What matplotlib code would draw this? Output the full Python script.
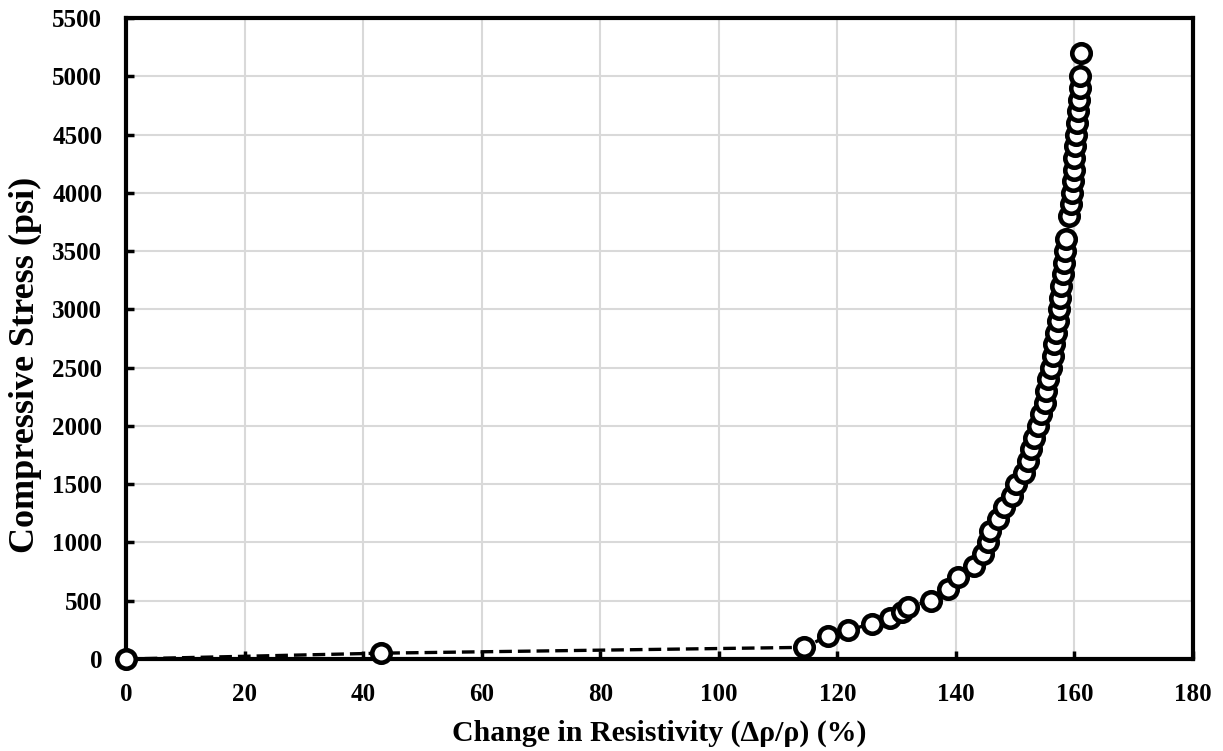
import numpy as np
import matplotlib
matplotlib.use("Agg")
import matplotlib.pyplot as plt

# change in resistivity (%) vs compressive stress (psi)
resistivity = [0, 43, 114.4, 118.5, 121.8, 125.8, 128.8, 130.9, 132.0, 135.8,
               138.6, 140.4, 143.0, 144.5, 145.4, 145.7, 147.1, 148.1, 149.4, 150.2,
               151.5, 152.1, 152.7, 153.1, 153.8, 154.4, 155.0, 155.2, 155.6, 156.0,
               156.3, 156.6, 156.9, 157.2, 157.4, 157.6, 157.8, 158.0, 158.2, 158.4,
               158.6, 159.0, 159.4, 159.5, 159.7, 159.9, 160.0, 160.1, 160.3, 160.4,
               160.6, 160.8, 160.9, 161.0, 161.1]
stress = [0, 50, 100, 200, 250, 300, 350, 400, 450, 500,
          600, 700, 800, 900, 1000, 1100, 1200, 1300, 1400, 1500,
          1600, 1700, 1800, 1900, 2000, 2100, 2200, 2300, 2400, 2500,
          2600, 2700, 2800, 2900, 3000, 3100, 3200, 3300, 3400, 3500,
          3600, 3800, 3900, 4000, 4100, 4200, 4300, 4400, 4500, 4600,
          4700, 4800, 4900, 5000, 5200]

plt.rcParams['font.family'] = ['Liberation Serif', 'DejaVu Serif']
plt.rcParams['font.weight'] = 'bold'

fig = plt.figure(figsize=(12.23, 7.51), dpi=100)
ax = fig.add_axes([0.103, 0.1225, 0.8725, 0.8535])

ax.plot(resistivity, stress, color='black', linestyle='--', linewidth=2.4,
        dashes=(3.8, 1.8), marker='o', markersize=13.3, markerfacecolor='white',
        markeredgecolor='black', markeredgewidth=3.3, zorder=3, clip_on=False)

ax.set_xlim(0, 180)
ax.set_ylim(0, 5500)
ax.set_xticks(np.arange(0, 181, 20))
ax.set_yticks(np.arange(0, 5501, 500))
ax.grid(True, color='#d9d9d9', linewidth=1.5)
ax.set_axisbelow(True)

for s in ax.spines.values():
    s.set_linewidth(3)
ax.tick_params(direction='in', length=6, width=2.5, labelsize=18)
ax.tick_params(axis='y', pad=17)
ax.tick_params(axis='x', pad=17)
for lab in ax.get_xticklabels() + ax.get_yticklabels():
    lab.set_fontweight('bold')

ax.set_xlabel('Change in Resistivity (Δρ/ρ) (%)', fontsize=21.5, fontweight='bold', labelpad=10)
ax.set_ylabel('Compressive Stress (psi)', fontsize=26, fontweight='bold')
ax.yaxis.set_label_coords(-0.079, 0.459)

fig.savefig('out.png', dpi=100)
